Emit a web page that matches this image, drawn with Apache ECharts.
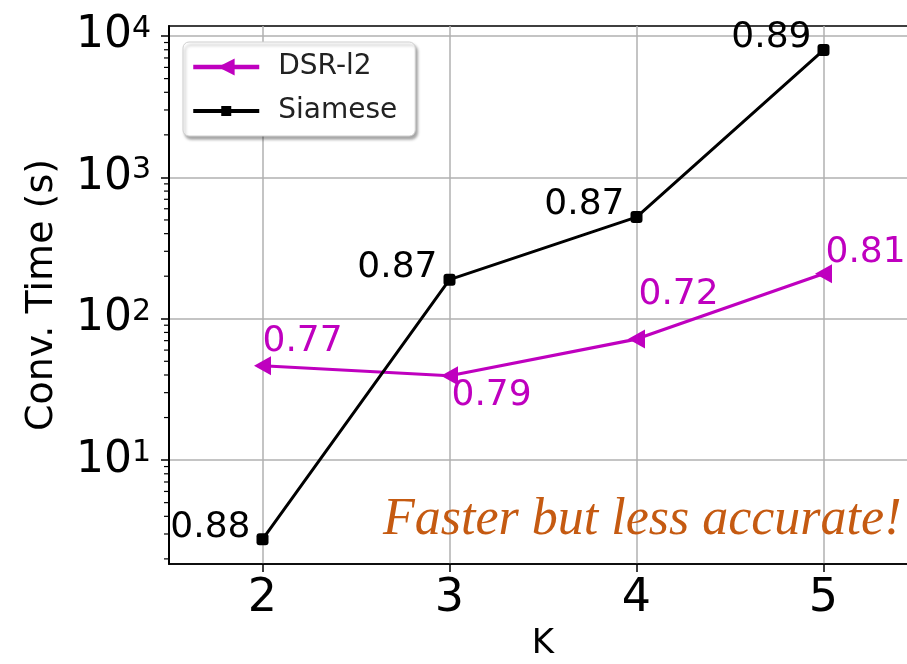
<!DOCTYPE html>
<html>
<head>
<meta charset="utf-8">
<script src="https://cdn.jsdelivr.net/npm/echarts@6/dist/echarts.min.js"></script>
<style>
  html, body { margin: 0; padding: 0; background: #fff; }
  #chart { width: 907px; height: 664px; }
</style>
</head>
<body>
<div id="chart"></div>
<script>
// K values on the x axis
const kValues = [2, 3, 4, 5];
const kTicks = [2, 3, 4, 5];

// Convergence time in seconds (log scale)
const dsrTimes = [46.5, 39.5, 71.8, 208];
const siameseTimes = [2.75, 189, 524, 7960];

// Accuracy printed next to each point
const dsrAcc = ['0.77', '0.79', '0.72', '0.81'];
const siameseAcc = ['0.88', '0.87', '0.87', '0.89'];

// Y axis decades and minor ticks
const yMajorTicks = [10, 100, 1000, 10000];
const yMinorTicks = [2, 3, 4, 5, 6, 7, 8, 9, 20, 30, 40, 50, 60, 70, 80, 90,
  200, 300, 400, 500, 600, 700, 800, 900, 2000, 3000, 4000, 5000, 6000, 7000, 8000, 9000];

const X_MIN = 1.5, X_MAX = 5.5;
const Y_MIN = 1.84, Y_MAX = 11780;

const FONT = 'DejaVu Sans';
const MAGENTA = '#bf00bf';

// Per-point label placement for the DSR-l2 line
const dsrLabelPlace = [
  { verticalAlign: 'bottom', offset: [0, -6] },
  { verticalAlign: 'top', offset: [2, 2] },
  { verticalAlign: 'bottom', offset: [2, -26] },
  { verticalAlign: 'bottom', offset: [2, -3] }
];

// Legend glyph for Siamese: thick line with a small square marker in the middle
const siameseLegendIcon = 'path://M0 0L0 0M66 21L66 21M0 8.5H28V5.5H38V8.5H66V12.5H38V15.5H28V12.5H0Z';

const chart = echarts.init(document.getElementById('chart'), null, { renderer: 'canvas' });

const option = {
  animation: false,
  backgroundColor: '#fff',
  textStyle: { fontFamily: FONT },
  grid: {
    left: 169, top: 26, right: -10, bottom: 100,
    show: true, borderColor: '#000', borderWidth: 1.5,
    containLabel: false,
    outerBoundsMode: 'none'
  },
  legend: {
    orient: 'vertical',
    left: 183, top: 42,
    itemWidth: 66, itemHeight: 21,
    itemGap: 16,
    padding: [11, 18, 11, 8],
    backgroundColor: '#fff',
    borderColor: '#d0d0d0', borderWidth: 1, borderRadius: 6,
    shadowColor: 'rgba(0,0,0,0.35)', shadowBlur: 3, shadowOffsetX: 2, shadowOffsetY: 3,
    lineStyle: { width: 4.5 },
    textStyle: { fontFamily: FONT, fontSize: 28, color: '#222', padding: [0, 0, 0, 14] },
    data: [
      { name: 'DSR-l2' },
      { name: 'Siamese', icon: siameseLegendIcon }
    ]
  },
  xAxis: {
    type: 'value',
    min: X_MIN, max: X_MAX,
    name: 'K',
    nameLocation: 'middle',
    nameGap: 62,
    nameTextStyle: { fontFamily: FONT, fontSize: 34, color: '#000' },
    axisLine: { show: true, lineStyle: { color: '#000', width: 1.5 } },
    axisTick: { show: true, customValues: kTicks, length: 8, lineStyle: { color: '#000', width: 1.5 } },
    axisLabel: {
      customValues: kTicks, margin: 12,
      fontFamily: FONT, fontSize: 46, color: '#000'
    },
    splitLine: { show: true, lineStyle: { color: '#b0b0b0', width: 1.5 } }
  },
  yAxis: {
    type: 'log',
    logBase: 10,
    min: Y_MIN,
    max: Y_MAX,
    name: 'Conv. Time (s)',
    nameLocation: 'middle',
    nameGap: 108,
    nameRotate: 90,
    nameTextStyle: { fontFamily: FONT, fontSize: 38, color: '#000' },
    axisLine: { show: true, lineStyle: { color: '#000', width: 2 } },
    axisTick: { show: true, customValues: yMajorTicks, length: 8, lineStyle: { color: '#000', width: 1.5 } },
    axisLabel: {
      customValues: yMajorTicks,
      margin: 18,
      formatter: function (v) {
        return '{b|10}{s|' + Math.round(Math.log10(v)) + '}';
      },
      rich: {
        b: { fontFamily: FONT, fontSize: 44, color: '#000' },
        s: { fontFamily: FONT, fontSize: 30, color: '#000', verticalAlign: 'top', lineHeight: 22 }
      }
    },
    splitLine: { show: true, lineStyle: { color: '#b0b0b0', width: 1.5 } },
    minorTick: { show: false },
    minorSplitLine: { show: false }
  },
  graphic: [{
    type: 'text',
    left: 383,
    top: 494,
    style: {
      text: 'Faster but less accurate!',
      fontFamily: 'Liberation Serif',
      fontStyle: 'italic',
      fontSize: 52,
      fill: '#c55a11'
    },
    z: 10
  }],
  series: [
    {
      // minor ticks of the log axis, drawn just outside the left spine
      name: 'yMinorTicks',
      type: 'custom',
      silent: true,
      clip: false,
      z: 10,
      data: yMinorTicks.map(function (v) { return [X_MIN, v]; }),
      renderItem: function (params, api) {
        const p = api.coord([api.value(0), api.value(1)]);
        return {
          type: 'line',
          shape: { x1: p[0] - 5, y1: p[1], x2: p[0], y2: p[1] },
          style: { stroke: '#000', lineWidth: 1.2 }
        };
      }
    },
    {
      name: 'DSR-l2',
      type: 'line',
      data: kValues.map(function (k, i) {
        return {
          value: [k, dsrTimes[i]],
          label: Object.assign({ position: 'inside', align: 'left' }, dsrLabelPlace[i])
        };
      }),
      symbol: 'triangle',
      symbolRotate: 90,
      symbolSize: [19, 17],
      itemStyle: { color: MAGENTA },
      lineStyle: { color: MAGENTA, width: 3.2 },
      label: {
        show: true,
        fontFamily: FONT, fontSize: 36, color: MAGENTA,
        formatter: function (p) { return dsrAcc[p.dataIndex]; }
      },
      z: 3
    },
    {
      name: 'Siamese',
      type: 'line',
      data: kValues.map(function (k, i) { return [k, siameseTimes[i]]; }),
      symbol: 'roundRect',
      symbolSize: 12,
      itemStyle: { color: '#000' },
      lineStyle: { color: '#000', width: 3 },
      label: {
        show: true,
        position: 'inside',
        align: 'right',
        verticalAlign: 'bottom',
        offset: [-12, 6],
        fontFamily: FONT, fontSize: 36, color: '#000',
        formatter: function (p) { return siameseAcc[p.dataIndex]; }
      },
      z: 4
    }
  ]
};

chart.setOption(option);
</script>
</body>
</html>
